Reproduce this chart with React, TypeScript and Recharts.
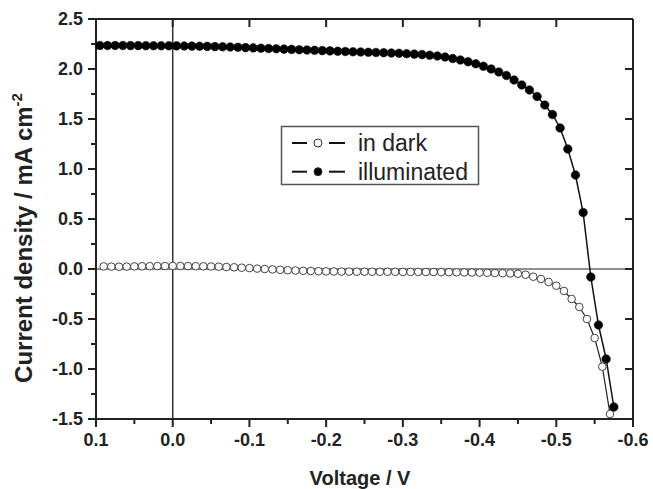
import { LineChart, Line, XAxis, YAxis, ReferenceLine, Label } from 'recharts'

// voltage (V) / current density (mA cm-2)
const darkV = [
  0.09, 0.08, 0.07, 0.06, 0.05, 0.04, 0.03, 0.02, 0.01, 0,
  -0.01, -0.02, -0.03, -0.04, -0.05, -0.06, -0.07, -0.08, -0.09, -0.1,
  -0.11, -0.12, -0.13, -0.14, -0.15, -0.16, -0.17, -0.18, -0.19, -0.2,
  -0.21, -0.22, -0.23, -0.24, -0.25, -0.26, -0.27, -0.28, -0.29, -0.3,
  -0.31, -0.32, -0.33, -0.34, -0.35, -0.36, -0.37, -0.38, -0.39, -0.4,
  -0.41, -0.42, -0.43, -0.44, -0.45, -0.46, -0.47, -0.48, -0.49, -0.5,
  -0.51, -0.52, -0.53, -0.54, -0.55, -0.56, -0.57,
]
const darkJ = [
  0.026, 0.024, 0.023, 0.024, 0.026, 0.027, 0.028, 0.029, 0.029, 0.03,
  0.03, 0.029, 0.028, 0.027, 0.025, 0.023, 0.02, 0.017, 0.013, 0.009,
  0.004, 0.0, -0.004, -0.008, -0.012, -0.015, -0.018, -0.02, -0.022, -0.024,
  -0.025, -0.026, -0.026, -0.027, -0.027, -0.027, -0.028, -0.028, -0.028, -0.029,
  -0.029, -0.029, -0.03, -0.03, -0.031, -0.032, -0.033, -0.034, -0.035, -0.036,
  -0.038, -0.04, -0.042, -0.044, -0.047, -0.057, -0.077, -0.1, -0.13, -0.167,
  -0.22, -0.3, -0.38, -0.5, -0.69, -0.977, -1.45,
]

const illumV = [
  0.095, 0.085, 0.075, 0.065, 0.055, 0.045, 0.035, 0.025, 0.015, 0.005,
  -0.005, -0.015, -0.025, -0.035, -0.045, -0.055, -0.065, -0.075, -0.085, -0.095,
  -0.105, -0.115, -0.125, -0.135, -0.145, -0.155, -0.165, -0.175, -0.185, -0.195,
  -0.205, -0.215, -0.225, -0.235, -0.245, -0.255, -0.265, -0.275, -0.285, -0.295,
  -0.305, -0.315, -0.325, -0.335, -0.345, -0.355, -0.365, -0.375, -0.385, -0.395,
  -0.405, -0.415, -0.425, -0.435, -0.445, -0.455, -0.465, -0.475, -0.485, -0.495,
  -0.505, -0.515, -0.525, -0.535, -0.545, -0.555, -0.565, -0.575,
]
const illumJ = [
  2.235, 2.235, 2.235, 2.235, 2.234, 2.234, 2.233, 2.233, 2.232, 2.232,
  2.231, 2.23, 2.229, 2.228, 2.226, 2.224, 2.222, 2.22, 2.217, 2.214,
  2.211, 2.208, 2.205, 2.202, 2.199, 2.196, 2.193, 2.19, 2.187, 2.184,
  2.181, 2.178, 2.175, 2.172, 2.17, 2.167, 2.165, 2.163, 2.16, 2.157,
  2.153, 2.149, 2.144, 2.138, 2.13, 2.12, 2.105, 2.09, 2.072, 2.052,
  2.028, 2.0, 1.97, 1.935, 1.89, 1.84, 1.79, 1.725, 1.64, 1.545,
  1.41, 1.2, 0.94, 0.565, -0.08, -0.56, -0.9, -1.38,
]

const xTicks = [0.1, 0.05, 0, -0.05, -0.1, -0.15, -0.2, -0.25, -0.3, -0.35, -0.4, -0.45, -0.5, -0.55, -0.6]
const xMajorTicks = [0.1, 0, -0.1, -0.2, -0.3, -0.4, -0.5, -0.6]
const yTicks = [-1.5, -1.25, -1, -0.75, -0.5, -0.25, 0, 0.25, 0.5, 0.75, 1, 1.25, 1.5, 1.75, 2, 2.25, 2.5]
const yMajorTicks = [-1.5, -1, -0.5, 0, 0.5, 1, 1.5, 2, 2.5]

const legendItems = [
  { name: 'in dark', filled: false },
  { name: 'illuminated', filled: true },
]

const X_MIN = -0.6
const X_MAX = 0.1
const Y_MIN = -1.5
const Y_MAX = 2.5

const darkData = darkV.map((v, i) => ({ v, j: darkJ[i] }))
const illumData = illumV.map((v, i) => ({ v, j: illumJ[i] }))

const AXIS = '#222'
const FONT = '"Liberation Sans", Arial, sans-serif'

const isIn = (list: number[], v: number) => list.some((t) => Math.abs(t - v) < 1e-9)
const fmt = (v: number) => (Math.abs(v) < 1e-9 ? '0.0' : v.toFixed(1))

function LeftTick(props: any) {
  const { x, y, payload } = props
  const major = isIn(yMajorTicks, payload.value)
  return (
    <g>
      <path d={`M${x - (major ? 8 : 5)},${y}H${x}`} stroke={AXIS} strokeWidth={2} />
      {major && (
        <text x={x - 13} y={y} dy="0.36em" textAnchor="end" fontFamily={FONT} fontWeight="bold" fontSize={18} fill="#222">
          {fmt(payload.value)}
        </text>
      )}
    </g>
  )
}

function BottomTick(props: any) {
  const { x, y, payload } = props
  const major = isIn(xMajorTicks, payload.value)
  return (
    <g>
      <path d={`M${x},${y}V${y + (major ? 8 : 5)}`} stroke={AXIS} strokeWidth={2} />
      {major && (
        <text x={x} y={y + 27} textAnchor="middle" fontFamily={FONT} fontWeight="bold" fontSize={18} fill="#222">
          {fmt(payload.value)}
        </text>
      )}
    </g>
  )
}

function YTitle() {
  return (
    <text transform="translate(32, 238) rotate(-90)" textAnchor="middle" fontFamily={FONT} fontWeight="bold" fontSize={24} fill="#222">
      Current density / mA cm
      <tspan dy={-10} fontSize={15}>-2</tspan>
    </text>
  )
}

function XTitle() {
  return (
    <text x={360} y={485} textAnchor="middle" fontFamily={FONT} fontWeight="bold" fontSize={20} fill="#222">
      Voltage / V
    </text>
  )
}

function ChartLegend() {
  return (
    <svg width={200} height={62} style={{ position: 'absolute', left: 280, top: 125 }}>
      <rect x={1.5} y={1.5} width={197} height={58} fill="#fff" stroke="#555" strokeWidth={1.5} />
      {legendItems.map((item, i) => {
        const cy = 18 + i * 28.7
        return (
          <g key={item.name}>
            <line x1={12} x2={27} y1={cy} y2={cy} stroke="#111" strokeWidth={2} />
            <line x1={49} x2={65} y1={cy} y2={cy} stroke="#111" strokeWidth={2} />
            <circle cx={38} cy={cy} r={4} fill={item.filled ? '#000' : '#fff'} stroke="#333" strokeWidth={1} />
            <text x={78} y={cy + 8} fontFamily={FONT} fontSize={23} fill="#222">
              {item.name}
            </text>
          </g>
        )
      })}
    </svg>
  )
}

export default function App() {
  // inward tick length on top/right frame: 8px in data units (plot is 537 x 400 px)
  const topTickLen = (8 / 400) * (Y_MAX - Y_MIN)
  const rightTickLen = (8 / 537) * (X_MAX - X_MIN)
  return (
    <div style={{ position: 'relative', width: 653, height: 489, background: '#fff' }}>
      <style>{'body{margin:0;overflow:hidden}'}</style>
      <LineChart width={653} height={489} data={illumData} margin={{ top: 19, right: 20, left: 0, bottom: 0 }}>
        <XAxis
          dataKey="v"
          type="number"
          domain={[X_MIN, X_MAX]}
          reversed
          ticks={xTicks}
          interval={0}
          height={70}
          tickSize={0}
          tickMargin={0}
          tickLine={false}
          tick={<BottomTick />}
          axisLine={{ stroke: AXIS, strokeWidth: 2 }}
        >
          <Label content={<XTitle />} />
        </XAxis>
        <YAxis
          type="number"
          domain={[Y_MIN, Y_MAX]}
          ticks={yTicks}
          interval={0}
          width={96}
          tickSize={0}
          tickMargin={0}
          tickLine={false}
          tick={<LeftTick />}
          axisLine={{ stroke: AXIS, strokeWidth: 2 }}
        >
          <Label content={<YTitle />} />
        </YAxis>
        <ReferenceLine x={0} stroke="#333" strokeWidth={1.5} />
        <ReferenceLine y={0} stroke="#222" strokeWidth={1.2} />
        {/* top and right frame with inward major ticks */}
        <ReferenceLine y={Y_MAX} stroke={AXIS} strokeWidth={2} />
        <ReferenceLine x={X_MIN} stroke={AXIS} strokeWidth={2} />
        {xMajorTicks.slice(1, -1).map((t) => (
          <ReferenceLine
            key={`tx${t}`}
            segment={[{ x: t, y: Y_MAX }, { x: t, y: Y_MAX - topTickLen }]}
            stroke={AXIS}
            strokeWidth={2}
          />
        ))}
        {yMajorTicks.slice(1, -1).map((t) => (
          <ReferenceLine
            key={`ty${t}`}
            segment={[{ x: X_MIN, y: t }, { x: X_MIN + rightTickLen, y: t }]}
            stroke={AXIS}
            strokeWidth={2}
          />
        ))}
        <Line
          data={darkData}
          dataKey="j"
          name="in dark"
          stroke="#222"
          strokeWidth={1.2}
          dot={{ r: 3.8, fill: '#fff', stroke: '#444', strokeWidth: 1 }}
          isAnimationActive={false}
        />
        <Line
          data={illumData}
          dataKey="j"
          name="illuminated"
          stroke="#111"
          strokeWidth={1.5}
          dot={{ r: 4.3, fill: '#000', stroke: '#000', strokeWidth: 0.5 }}
          isAnimationActive={false}
        />
      </LineChart>
      <ChartLegend />
    </div>
  )
}
